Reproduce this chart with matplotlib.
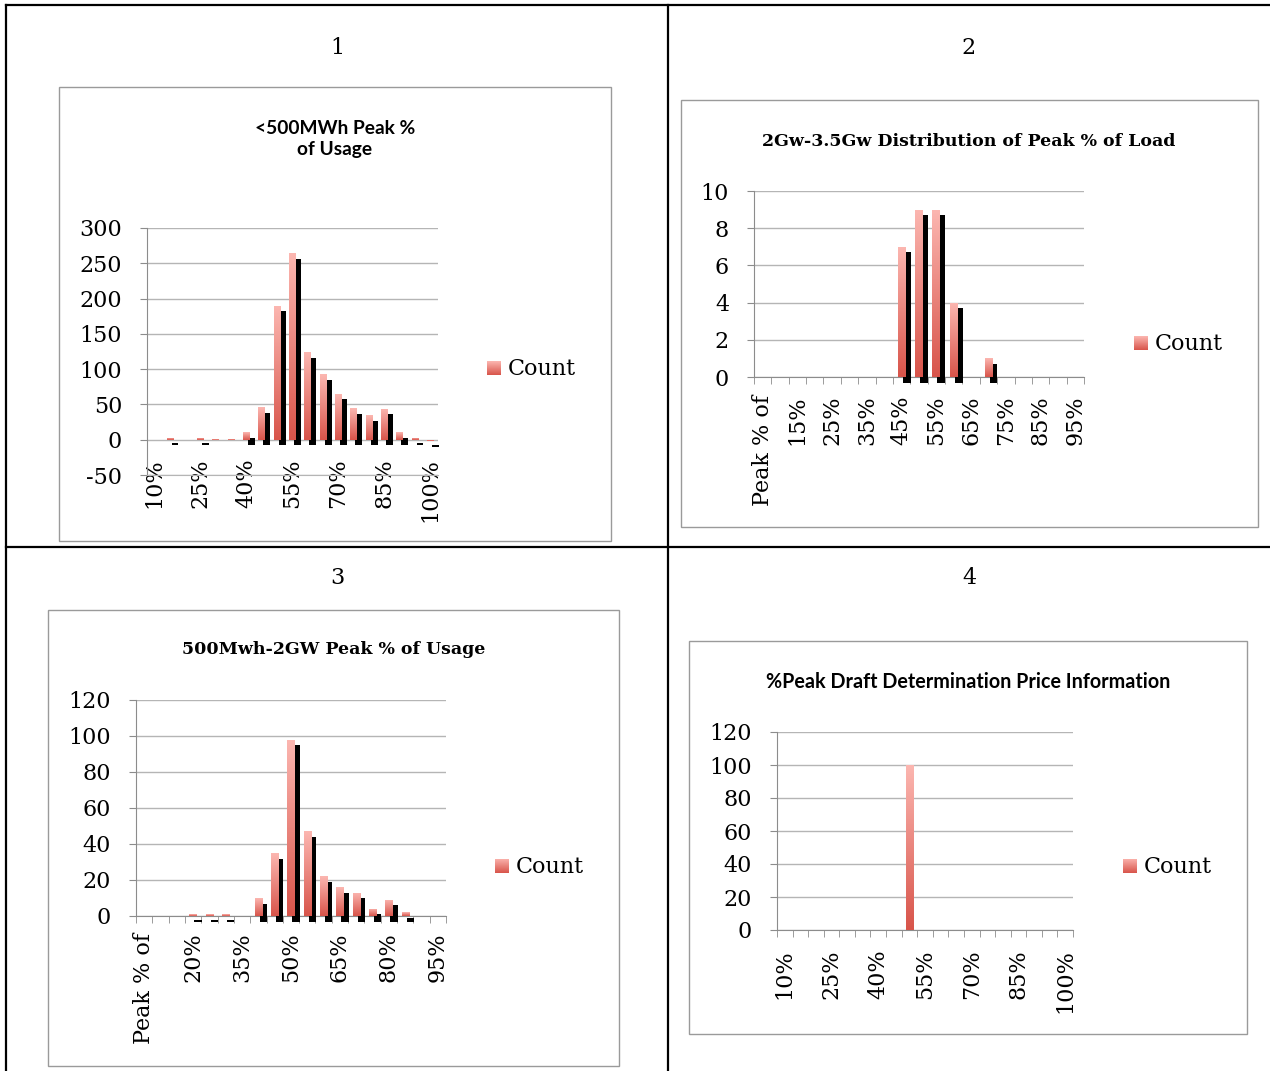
import numpy as np
import matplotlib.pyplot as plt
import matplotlib.patheffects as pe
from matplotlib.colors import LinearSegmentedColormap
from matplotlib.patches import Rectangle
from matplotlib.lines import Line2D

plt.rcParams["font.family"] = ["DejaVu Serif"]
plt.rcParams["axes.unicode_minus"] = False

# categories
pct_10_100 = ["10%", "15%", "20%", "25%", "30%", "35%", "40%", "45%", "50%", "55%",
              "60%", "65%", "70%", "75%", "80%", "85%", "90%", "95%", "100%"]
pct_header = ["Peak % of", "10%", "15%", "20%", "25%", "30%", "35%", "40%", "45%", "50%",
              "55%", "60%", "65%", "70%", "75%", "80%", "85%", "90%", "95%"]

# counts per bucket
small_counts = [0, 3, 0, 3, 1, 1, 11, 46, 190, 264, 124, 93, 65, 45, 35, 44, 11, 3, -2]
large_counts = [0, 0, 0, 0, 0, 0, 0, 0, 7, 9, 9, 4, 0, 1, 0, 0, 0, 0, 0]
mid_counts = [0, 0, 0, 1, 1, 1, 0, 10, 35, 98, 47, 22, 16, 13, 4, 9, 2, 0, 0]
draft_counts = [0, 0, 0, 0, 0, 0, 0, 0, 100, 0, 0, 0, 0, 0, 0, 0, 0, 0, 0]

small_ticks = [-50, 0, 50, 100, 150, 200, 250, 300]
large_ticks = [0, 2, 4, 6, 8, 10]
mid_ticks = [0, 20, 40, 60, 80, 100, 120]
draft_ticks = [0, 20, 40, 60, 80, 100, 120]

W, H = 1270, 1071
fig = plt.figure(figsize=(W / 100, H / 100), dpi=100)

bar_cmap = LinearSegmentedColormap.from_list("count", ["#fcb7b1", "#d8544a"])
grad = np.linspace(0, 1, 256).reshape(-1, 1)
grid_col = "#b5b5b5"
axis_col = "#8c8c8c"


def px_box(l, t, r, b):
    return [l / W, 1 - b / H, (r - l) / W, (b - t) / H]


def fx(x):
    return x / W


def fy(y):
    return 1 - y / H


def draw_chart(area, cats, counts, yticks, step, shadow, label_pad, boundary_ticks):
    ax = fig.add_axes(px_box(*area))
    x = np.arange(len(cats))
    bars = ax.bar(x, counts, width=0.45, color="#e8706a", linewidth=0,
                  clip_on=False, zorder=3)
    for r in bars:
        if r.get_height() == 0:
            continue
        if shadow:
            r.set_path_effects([pe.SimplePatchShadow(offset=(3.6, -4.0),
                                                     shadow_rgbFace="black", alpha=1.0),
                                pe.Normal()])
        x0, y0 = r.get_xy()
        w, h = r.get_width(), r.get_height()
        im = ax.imshow(grad, cmap=bar_cmap, aspect="auto", interpolation="bilinear",
                       extent=[x0, x0 + w, min(y0, y0 + h), max(y0, y0 + h)], zorder=3.5)
        im.set_clip_path(r)
    ax.set_xlim(-0.5, len(cats) - 0.5)
    ax.set_ylim(yticks[0], yticks[-1])

    ax.set_yticks(yticks)
    ax.tick_params(axis="y", length=5, color=axis_col, pad=13, labelsize=16)
    ax.set_xticks(x[::step])
    ax.set_xticklabels(cats[::step], rotation=90)
    ax.tick_params(axis="x", which="major", length=0, pad=label_pad, labelsize=16)
    ax.set_xticks(np.arange(-0.5, len(cats)), minor=True)
    ax.tick_params(axis="x", which="minor", length=5 if boundary_ticks else 0,
                   color=axis_col)

    ax.yaxis.grid(True, color=grid_col, lw=1)
    ax.set_axisbelow(True)
    for s in ["top", "right"]:
        ax.spines[s].set_visible(False)
    for s in ["left", "bottom"]:
        ax.spines[s].set_color(axis_col)
    ax.spines["bottom"].set_color(grid_col if not boundary_ticks else axis_col)
    return ax


def legend(x, y):
    lax = fig.add_axes(px_box(x - 7, y - 7, x + 7, y + 7))
    lax.imshow(grad, cmap=bar_cmap, aspect="auto")
    lax.axis("off")
    fig.text(fx(x + 14), fy(y + 1), "Count", fontsize=16, ha="left", va="center")


def frame(l, t, r, b):
    fig.add_artist(Rectangle((fx(l), fy(b)), (r - l) / W, (b - t) / H,
                             transform=fig.transFigure, fill=False,
                             edgecolor="#9a9a9a", lw=1))


# table grid
for xs, ys in [([6, 6], [5, 1071]), ([6, 1270], [5, 5]),
               ([668, 668], [5, 1071]), ([6, 1270], [547, 547])]:
    fig.add_artist(Line2D([fx(v) for v in xs], [fy(v) for v in ys],
                          transform=fig.transFigure, color="black", lw=1.6))

for num, (cx, cy) in zip(["1", "2", "3", "4"], [(337, 48), (969, 48), (337, 578), (969, 578)]):
    fig.text(fx(cx), fy(cy), num, fontsize=16, ha="center", va="center")

# chart frames
frame(59, 87, 611, 541)
frame(681, 100, 1258, 527)
frame(48, 610, 619, 1066)
frame(689, 641, 1247, 1034)

# 1: <500MWh
draw_chart((147, 228, 438, 475), pct_10_100, small_counts, small_ticks, 3, True, -12, False)
fig.text(fx(335), fy(139), "<500MWh Peak %\nof Usage", fontsize=13.8, fontweight="bold",
         family="Lato", ha="center", va="center", linespacing=1.25)
legend(494, 368)

# 2: 2Gw-3.5Gw
draw_chart((754, 191, 1084, 377), pct_header, large_counts, large_ticks, 2, True, 13, True)
fig.text(fx(969), fy(141), "2Gw-3.5Gw Distribution of Peak % of Load", fontsize=12.5,
         fontweight="bold", ha="center", va="center")
legend(1141, 343)

# 3: 500Mwh-2GW
draw_chart((136, 700, 446, 916), pct_header, mid_counts, mid_ticks, 3, True, 12, True)
fig.text(fx(334), fy(650), "500Mwh-2GW Peak % of Usage", fontsize=12.5,
         fontweight="bold", ha="center", va="center")
legend(502, 866)

# 4: draft determination
draw_chart((777, 732, 1073, 930), pct_10_100, draft_counts, draft_ticks, 3, False, 14, True)
fig.text(fx(968), fy(682), "%Peak Draft Determination Price Information", fontsize=14.2,
         fontweight="bold", family="Lato", ha="center", va="center")
legend(1130, 866)

fig.savefig("out.png", dpi=100)
